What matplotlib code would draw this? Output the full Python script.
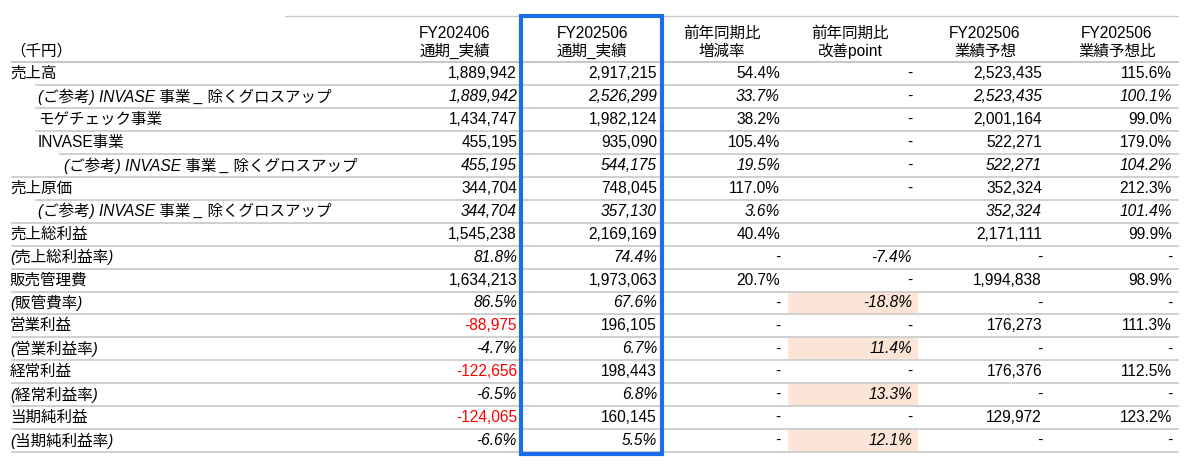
import matplotlib
matplotlib.use("Agg")
import matplotlib.pyplot as plt
from matplotlib.patches import Rectangle

plt.rcParams["font.family"] = ["Liberation Sans", "Noto Sans CJK JP"]

headers1 = ["FY202406", "FY202506", "前年同期比", "前年同期比", "FY202506", "FY202506"]
headers2 = ["通期_実績", "通期_実績", "増減率", "改善point", "業績予想", "業績予想比"]
labels = ["売上高", "(ご参考) INVASE 事業 _ 除くグロスアップ", "モゲチェック事業", "INVASE事業",
          "(ご参考) INVASE 事業 _ 除くグロスアップ", "売上原価", "(ご参考) INVASE 事業 _ 除くグロスアップ",
          "売上総利益", "(売上総利益率)", "販売管理費", "(販管費率)", "営業利益", "(営業利益率)",
          "経常利益", "(経常利益率)", "当期純利益", "(当期純利益率)"]
indent = [0, 1, 1, 1, 2, 0, 1, 0, 0, 0, 0, 0, 0, 0, 0, 0, 0]
italic = [False, True, False, False, True, False, True, False, True, False, True, False, True, False, True, False, True]
fy2406 = ["1,889,942", "1,889,942", "1,434,747", "455,195", "455,195", "344,704", "344,704", "1,545,238", "81.8%",
          "1,634,213", "86.5%", "-88,975", "-4.7%", "-122,656", "-6.5%", "-124,065", "-6.6%"]
fy2506 = ["2,917,215", "2,526,299", "1,982,124", "935,090", "544,175", "748,045", "357,130", "2,169,169", "74.4%",
          "1,973,063", "67.6%", "196,105", "6.7%", "198,443", "6.8%", "160,145", "5.5%"]
yoy = ["54.4%", "33.7%", "38.2%", "105.4%", "19.5%", "117.0%", "3.6%", "40.4%", "-", "20.7%", "-", "-", "-", "-", "-", "-", "-"]
pt = ["-", "-", "-", "-", "-", "-", "", "", "-7.4%", "-", "-18.8%", "-", "11.4%", "-", "13.3%", "-", "12.1%"]
fc = ["2,523,435", "2,523,435", "2,001,164", "522,271", "522,271", "352,324", "352,324", "2,171,111", "-",
      "1,994,838", "-", "176,273", "-", "176,376", "-", "129,972", "-"]
fcr = ["115.6%", "100.1%", "99.0%", "179.0%", "104.2%", "212.3%", "101.4%", "99.9%", "-", "98.9%", "-",
       "111.3%", "-", "112.5%", "-", "123.2%", "-"]
highlight_rows = [10, 12, 14, 16]

fig = plt.figure(figsize=(12, 4.67), dpi=100)
ax = fig.add_axes([0, 0, 1, 1])
ax.set_xlim(0, 1200)
ax.set_ylim(467, 0)
ax.axis("off")

rights = [517, 657, 780, 912, 1042, 1172]
centers = [455, 592, 722, 850, 985, 1117]
fs = 11.2
y0, rh = 62, 22.95
cols = [fy2406, fy2506, yoy, pt, fc, fcr]

for r in highlight_rows:
    ax.add_patch(Rectangle((788, y0 + r * rh + 1), 130, rh - 2, facecolor="#fce4d6", edgecolor="none", zorder=0))

ax.plot([285, 1178], [16, 16], color="#c8c8c8", lw=1)
ax.plot([12, 1178], [y0, y0], color="#c8c8c8", lw=1.5)
for i, (h1, h2) in enumerate(zip(headers1, headers2)):
    ax.text(centers[i], 33, h1, ha="center", va="center", fontsize=fs)
    ax.text(centers[i], 51, h2, ha="center", va="center", fontsize=fs)
ax.text(10, 51, "（千円）", ha="left", va="center", fontsize=fs)

for r, lab in enumerate(labels):
    yc = y0 + r * rh + rh / 2
    style = "italic" if italic[r] else "normal"
    ax.text(10 + indent[r] * 26 + (2 if indent[r] else 0), yc, lab, ha="left", va="center", fontsize=fs, style=style)
    for c, col in enumerate(cols):
        v = col[r]
        color = "red" if (c == 0 and v.startswith("-") and "%" not in v) else "black"
        ax.text(rights[c], yc, v, ha="right", va="center", fontsize=fs, style=style, color=color)
    nxt = indent[r + 1] if r + 1 < len(labels) else 0
    xs = 12 + nxt * 24
    ax.plot([xs, 1178], [y0 + (r + 1) * rh] * 2, color="#c8c8c8", lw=1.2)

ax.add_patch(Rectangle((521, 16), 141, y0 + 17 * rh + 2 - 16, facecolor="none", edgecolor="#1a6fe8", lw=3, zorder=5))

fig.savefig("out.png", dpi=100)
